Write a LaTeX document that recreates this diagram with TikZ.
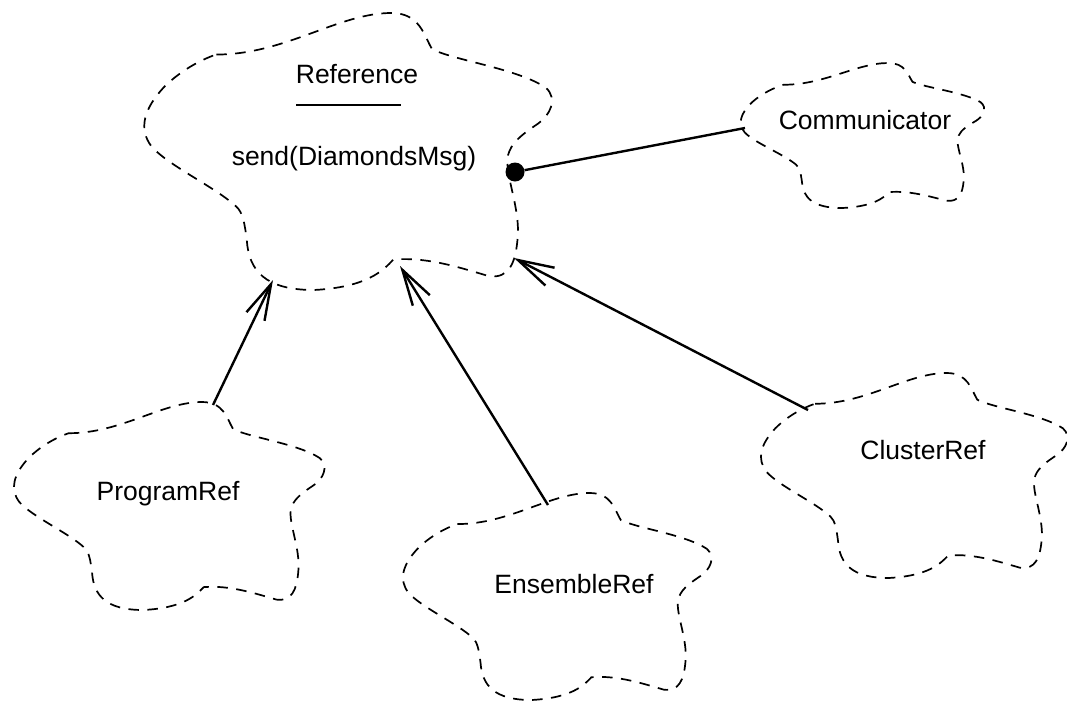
\documentclass[tikz,border=0pt]{standalone}
\usepackage{fontspec}
\setmainfont{Liberation Sans}
\usetikzlibrary{arrows.meta}

% Booch class cloud in unit coordinates (v grows downward), placed by
% its top-left corner (#1,#2) and stretched to width #3 and height #4
\newcommand\drawcloud[4]{%
  \begin{scope}[shift={(#1,#2)},xscale=#3,yscale=#4]
    \draw[cloudline]
      (0.18,0.15) .. controls (0.35,0.15) and (0.48,0.0) .. (0.61,0.0)
      .. controls (0.68,0.0) and (0.69,0.08) .. (0.71,0.13)
      .. controls (0.76,0.17) and (0.92,0.20) .. (0.99,0.27)
      .. controls (1.02,0.31) and (1.0,0.37) .. (0.97,0.40)
      .. controls (0.94,0.43) and (0.91,0.46) .. (0.90,0.50)
      .. controls (0.88,0.56) and (0.93,0.70) .. (0.92,0.82)
      .. controls (0.915,0.90) and (0.90,0.96) .. (0.85,0.95)
      .. controls (0.78,0.92) and (0.70,0.88) .. (0.615,0.89)
      .. controls (0.59,0.93) and (0.55,0.99) .. (0.42,1.0)
      .. controls (0.30,1.0) and (0.26,0.93) .. (0.255,0.82)
      .. controls (0.25,0.76) and (0.245,0.72) .. (0.23,0.70)
      .. controls (0.18,0.63) and (0.06,0.55) .. (0.02,0.48)
      .. controls (-0.01,0.42) and (0.0,0.35) .. (0.05,0.27)
      .. controls (0.09,0.21) and (0.14,0.17) .. cycle;
  \end{scope}}

\begin{document}
\begin{tikzpicture}[x=1pt,y=-1pt,
  cloudline/.style={line width=1.7pt,dash pattern=on 10.5pt off 8.5pt},
  label/.style={anchor=base,inner sep=0pt,font=\fontsize{26.5}{31}\selectfont},
  link/.style={line width=2.4pt},
  inherit/.style={link,-{Straight Barb[length=36pt,width=20pt,line width=2.4pt]}},
  dotnode/.style={circle,fill,inner sep=0pt,minimum size=19pt}]
\useasboundingbox (0,0) rectangle (1067,702);

% class clouds
\drawcloud{143}{13}{407}{277}
\drawcloud{740}{63}{243}{145}
\drawcloud{13}{402}{310}{208}
\drawcloud{402}{493}{308}{207}
\drawcloud{760}{373}{306}{205}

% class names and the operation of Reference
\node[label] (reference) at (357,83) {Reference};
\coordinate (sepL) at (296,105);
\coordinate (sepR) at (401,105);
\draw[line width=2pt] (sepL) -- (sepR);
\node[label] (send) at (354,165) {send(DiamondsMsg)};
\node[label] (communicator) at (865,129) {Communicator};
\node[label] (programref) at (168,500) {ProgramRef};
\node[label] (ensembleref) at (574,593) {EnsembleRef};
\node[label] (clusterref) at (923,459) {ClusterRef};

% attachment points on the cloud outlines
\coordinate (ref-a) at (273,280);
\coordinate (ref-b) at (400,266);
\coordinate (ref-c) at (514,258);
\coordinate (comm-l) at (745,128);
\coordinate (prog-t) at (213,405);
\coordinate (ens-t) at (548,505);
\coordinate (clus-t) at (808,410);
\node[dotnode] (dot) at (515,172) {};

% relationships
\draw[link] (dot) -- (comm-l);
\draw[inherit] (prog-t) -- (ref-a);
\draw[inherit] (ens-t) -- (ref-b);
\draw[inherit] (clus-t) -- (ref-c);
\end{tikzpicture}
\end{document}
